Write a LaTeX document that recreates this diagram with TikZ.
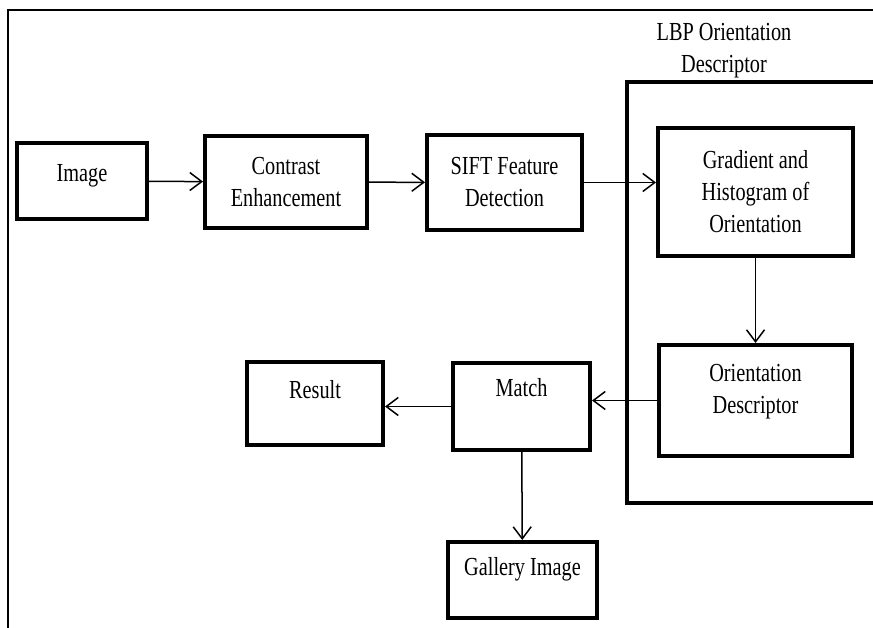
\documentclass[tikz,border=0pt]{standalone}
\usepackage{fontspec}
\setmainfont{Liberation Serif}[FakeStretch=0.78]
\usetikzlibrary{arrows.meta}

\begin{document}
\begin{tikzpicture}[x=1pt, y=-1pt,
      block/.style={rectangle, draw, line width=4pt, align=center, inner sep=3pt, font=\fontsize{26}{32}\selectfont},
      uptext/.style={text height=17pt, text depth=#1},
      arrow/.style={line width=1.5pt, -{Straight Barb[length=12pt, width=18pt, line width=1.5pt]}}
   ]
      \useasboundingbox (0,0) rectangle (873,628);
      \clip (0,0) rectangle (873,628);

      % Frame of the page
      \draw[line width=2.5pt] (8,640) -- (8,10) -- (890,10);

      % LBP group
      \draw[line width=4pt] (874.5,503) -| (627,82) -- (874.5,82) -- cycle;
      \node (lbplabel) [font=\fontsize{26}{32}\selectfont, align=center] at (724,51) {LBP Orientation\\Descriptor};

      % Row 1 (left to right)
      \node (img)   [block, uptext=15pt, minimum width=130pt, minimum height=76pt] at (82,181)     {Image};
      \node (enh)   [block, minimum width=162pt, minimum height=92pt]  at (286,182)   {Contrast\\Enhancement};
      \node (sift)  [block, minimum width=155pt, minimum height=95pt]  at (504.5,182.5) {SIFT Feature\\Detection};
      \node (grad)  [block, minimum width=195pt, minimum height=128pt] at (755.5,192) {Gradient and\\Histogram of\\Orientation};

      % Row 2 (right to left)
      \node (odesc) [block, text height=49pt, text depth=24pt, minimum width=193pt, minimum height=111pt] at (755.5,400.5) {Orientation\\Descriptor};
      \node (match) [block, uptext=38pt, minimum width=137pt, minimum height=87pt] at (521.5,406.5) {Match};
      \node (result)[block, uptext=28pt, minimum width=136pt, minimum height=83pt] at (315,403.5)   {Result};

      % Row 3
      \node (gallery) [block, uptext=27pt, minimum width=149pt, minimum height=76pt] at (522.5,580) {Gallery Image};

      % Row 1 arrows
      \draw[arrow] (img) -- (enh);
      \draw[arrow] (enh) -- (sift);
      \draw[arrow] (sift.east) -- (sift.east -| grad.west);

      % Down through the LBP group
      \draw[arrow] (grad) -- (odesc);

      % Row 2 arrows
      \draw[arrow] (odesc.west) -- (odesc.west -| match.east);
      \draw[arrow] (match.west) -- (match.west -| result.east);

      % Match also gives the gallery image
      \draw[arrow] (match) -- (gallery);
   \end{tikzpicture}
\end{document}
